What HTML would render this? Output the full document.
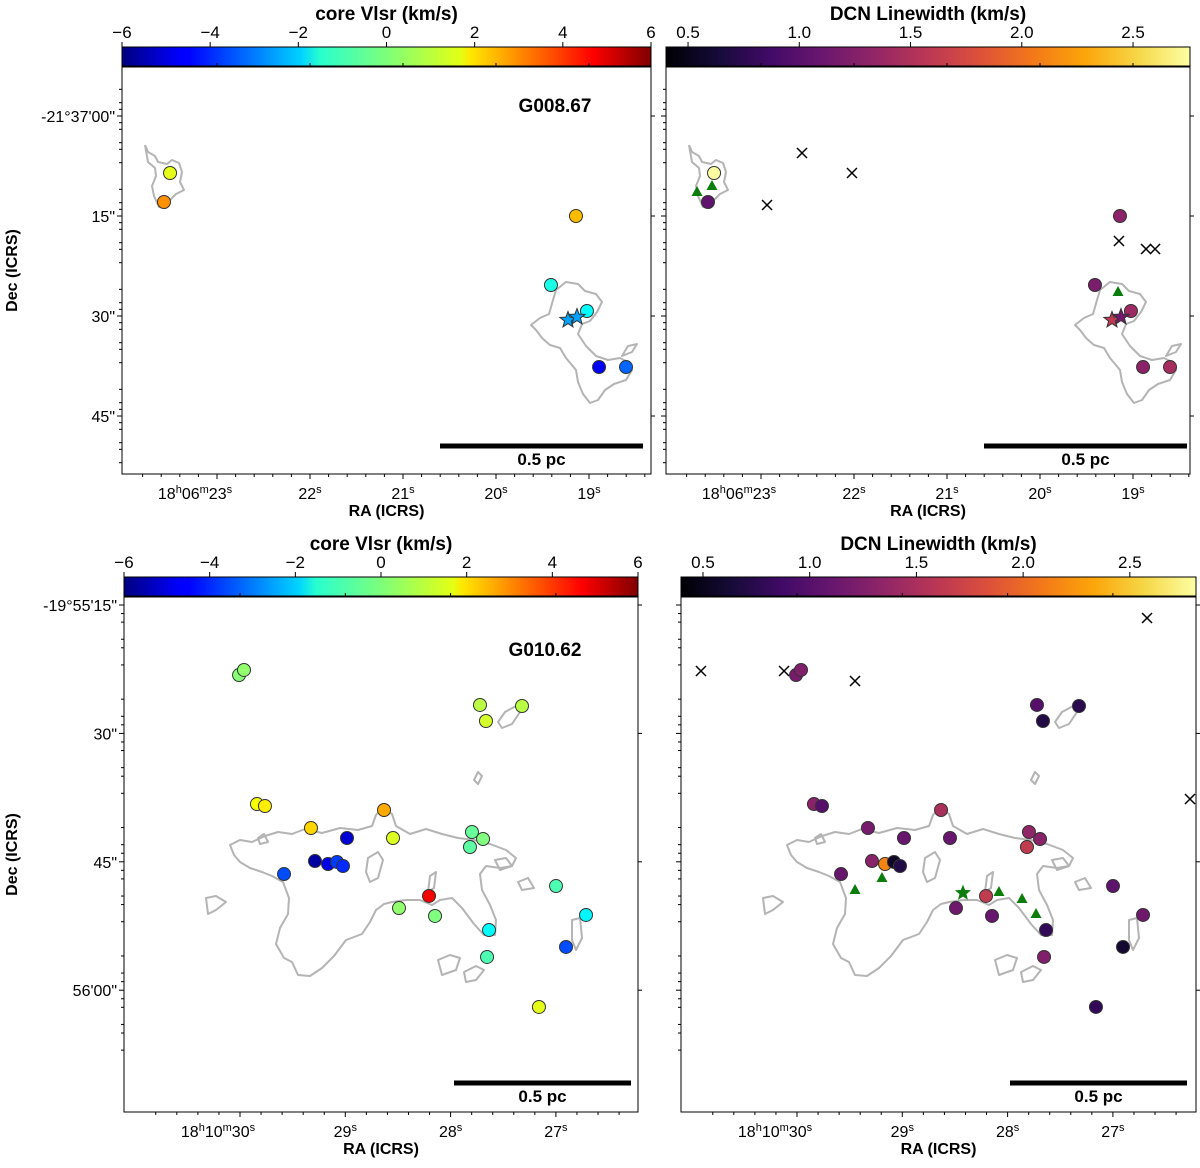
<!DOCTYPE html>
<html><head><meta charset="utf-8"><style>
body{margin:0;background:#fff;}
svg{display:block;font-family:"Liberation Sans","DejaVu Sans",sans-serif;}
</style></head><body>
<svg id="fig" width="1200" height="1168" xmlns="http://www.w3.org/2000/svg">
<defs>
<linearGradient id="jet" x1="0" x2="1" y1="0" y2="0">
<stop offset="0" stop-color="#00007f"/><stop offset="0.11" stop-color="#0000ff"/><stop offset="0.125" stop-color="#0000ff"/><stop offset="0.34" stop-color="#00d4ff"/><stop offset="0.375" stop-color="#29ffce"/><stop offset="0.5" stop-color="#7dff7a"/><stop offset="0.64" stop-color="#e4ff13"/><stop offset="0.66" stop-color="#ffe600"/><stop offset="0.89" stop-color="#ff0000"/><stop offset="1" stop-color="#7f0000"/>
</linearGradient>
<linearGradient id="inferno" x1="0" x2="1" y1="0" y2="0">
<stop offset="0" stop-color="#000004"/><stop offset="0.1" stop-color="#160b39"/><stop offset="0.2" stop-color="#420a68"/><stop offset="0.3" stop-color="#6a176e"/><stop offset="0.4" stop-color="#932667"/><stop offset="0.5" stop-color="#bc3754"/><stop offset="0.6" stop-color="#dd513a"/><stop offset="0.7" stop-color="#f37819"/><stop offset="0.8" stop-color="#fca50a"/><stop offset="0.9" stop-color="#f6d746"/><stop offset="1" stop-color="#fcffa4"/>
</linearGradient>
</defs>
</svg>
<script>
// ---- data: G008.67 (RA seconds of 18h06m, Dec arcsec below -21°37'00") ----
const g8Ra = [23.505, 23.570, 19.140, 19.409, 19.022, 18.892, 18.602];
const g8Dec = [8.55, 12.90, 15.00, 25.35, 29.25, 37.65, 37.65];
const g8Vlsr = [1.2, 2.8, 2.3, -1.2, -1.5, -4.6, -3.3];
const g8Lw = [2.75, 1.05, 1.3, 1.2, 1.4, 1.3, 1.45];
const g8StarRa = [19.226, 19.129];
const g8StarDec = [30.6, 30.15];
const g8StarVlsr = [-2.6, -2.6];
const g8StarLw = [1.6, 1.15];
const g8TriRa = [23.688, 23.527, 19.161];
const g8TriDec = [11.4, 10.5, 26.4];
const g8XRa = [22.559, 22.022, 22.935, 19.151, 18.860, 18.763];
const g8XDec = [5.55, 8.55, 13.35, 18.75, 19.95, 19.95];
// ---- data: G010.62 (RA seconds of 18h10m, Dec arcsec below -19°55'00") ----
const g10Ra = [30.009,29.962,27.721,27.664,27.322,29.839,29.763,29.326,28.632,28.984,28.547,29.288,29.164,29.079,29.022,29.582,27.797,27.692,27.816,26.999,28.205,28.490,28.148,26.714,27.635,26.904,27.654,27.161];
const g10Dec = [23.18,22.59,26.68,28.55,26.80,38.25,38.48,41.05,38.95,42.22,42.22,44.91,45.26,45.02,45.49,46.43,41.52,42.34,43.27,47.83,48.99,50.40,51.33,51.21,52.97,54.95,56.12,61.96];
const g10Vlsr = [0.1,0.2,0.7,1.0,0.7,1.4,1.7,2.0,2.5,-5.0,1.1,-5.6,-4.8,-3.8,-4.0,-3.6,-0.3,0.0,-0.4,-0.6,4.6,0.2,0.0,-1.6,-1.5,-3.6,-0.6,1.2];
const g10Lw = [1.2,1.25,1.0,0.7,0.75,1.3,1.0,1.2,1.5,1.1,1.1,1.3,2.15,0.55,0.7,1.1,1.35,1.3,1.65,1.05,1.65,1.15,1.1,1.15,0.8,0.6,1.25,0.8];
const g10TriRa = [29.449,29.193,28.082,27.863,27.730];
const g10TriDec = [48.29,46.89,48.53,49.35,51.10];
const g10StarRa = [28.424];
const g10StarDec = [48.64];
const g10XRa = [30.912,30.123,29.449,26.676,26.268];
const g10XDec = [22.71,22.71,23.88,16.52,37.66];
const jetTicks = [-6,-4,-2,0,2,4,6];
const lwTicks = [0.5,1.0,1.5,2.0,2.5];

const NS="http://www.w3.org/2000/svg";
const svg=document.getElementById('fig');
function mk(tag,attrs,parent){const e=document.createElementNS(NS,tag);for(const k in attrs)e.setAttribute(k,attrs[k]);(parent||svg).appendChild(e);return e;}
function txt(s,x,y,opt,parent){const e=mk('text',Object.assign({x:x,y:y,'font-size':16,'text-anchor':'middle',fill:'#000'},opt||{}),parent);e.textContent=s;return e;}
function clamp(v){return Math.max(0,Math.min(1,v));}
function jet(v){const t=clamp((v+6)/12);const r=clamp(1.5-Math.abs(4*t-3)),g=clamp(1.5-Math.abs(4*t-2)),b=clamp(1.5-Math.abs(4*t-1));return `rgb(${Math.round(r*255)},${Math.round(g*255)},${Math.round(b*255)})`;}
const inf=[[0,0,4],[22,11,57],[66,10,104],[106,23,110],[147,38,103],[188,55,84],[221,81,58],[243,120,25],[252,165,10],[246,215,70],[252,255,164]];
function inferno(v,lo,hi){const t=clamp((v-lo)/(hi-lo))*10;const i=Math.min(9,Math.floor(t)),f=t-i;const a=inf[i],b=inf[i+1];return `rgb(${a.map((c,k)=>Math.round(c+(b[k]-c)*f)).join(',')})`;}

function panel(cfg){
  const g=mk('g',{});
  
  
  const {L,R,T,B}=cfg;
  const xs=ra=>cfg.x0-(ra-cfg.ra0)*cfg.pxs;
  const ys=d=>cfg.y0+(d-cfg.d0)*cfg.pyd;
  const cb=mk('rect',{x:L,y:T-20,width:R-L,height:19,fill:cfg.grad,stroke:'#000','stroke-width':1},g);
  
  
  const cs=v=>L+(v-cfg.cmin)/(cfg.cmax-cfg.cmin)*(R-L);
  cfg.cticks.forEach(v=>{const x=cs(v);mk('line',{x1:x,x2:x,y1:T-20,y2:T-25,stroke:'#000'},g);const t=txt(String(v).replace('-','\u2212'),x,T-29,{'font-size':17},g);if(cfg.fmt)t.textContent=v.toFixed(1);});
  const ti=txt(cfg.ctitle,(L+R)/2,T-47,{'font-size':19,'font-weight':'bold'},g);
  
  const cg=mk('g',{transform:`translate(${cfg.cdx},0)`,fill:'none',stroke:'#b4b4b4','stroke-width':2,'stroke-linejoin':'round'},g);
  
  cfg.contours.forEach(p=>mk('path',{d:p},cg));
  const fr=mk('rect',{x:L,y:T,width:R-L,height:B-T,fill:'none',stroke:'#000','stroke-width':1},g);
  
  cfg.xticks.forEach((v,i)=>{const x=xs(v);mk('line',{x1:x,x2:x,y1:B,y2:B+5,stroke:'#000'},g);mk('line',{x1:x,x2:x,y1:T,y2:T-4,stroke:'#000'},g);
    for(let k=1;k<5;k++){const xm=xs(v-k*0.2);if(xm>L&&xm<R){mk('line',{x1:xm,x2:xm,y1:B,y2:B+3,stroke:'#000'},g);}}
    if(i==0){for(let k=1;k<5;k++){const xm=xs(v+k*0.2);if(xm>L)mk('line',{x1:xm,x2:xm,y1:B,y2:B+3,stroke:'#000'},g);}}
    const t=mk('text',{x:x,y:B+25,'font-size':16,'text-anchor':'middle'},g);
    if(i==0){t.innerHTML=`${cfg.rah}<tspan font-size="11" dy="-6">h</tspan><tspan dy="6">${cfg.ram}</tspan><tspan font-size="11" dy="-6">m</tspan><tspan dy="6">${v}</tspan><tspan font-size="11" dy="-6">s</tspan>`;t.setAttribute('x',x-22);}
    else t.innerHTML=`${v}<tspan font-size="11" dy="-6">s</tspan>`;
    });
  cfg.yticks.forEach((v,i)=>{const y=ys(v);mk('line',{x1:L,x2:L-5,y1:y,y2:y,stroke:'#000'},g);mk('line',{x1:R,x2:R+4,y1:y,y2:y,stroke:'#000'},g);
    for(let k=-4;k<8;k++){if(k%3==0)continue;const ym=ys(v+k*5/3*0.6);if(ym>T&&ym<B){mk('line',{x1:L,x2:L-3,y1:ym,y2:ym,stroke:'#000'},g);}}
    if(cfg.ylabels){const t=txt(cfg.ylabels[i],L-7,y+6,{'text-anchor':'end'},g);}});
  const xl=txt('RA (ICRS)',(L+R)/2,B+42,{'font-weight':'bold','font-size':16},g);
  
  if(cfg.ylabels){const yl=txt('Dec (ICRS)',0,0,{'font-weight':'bold','font-size':16,transform:`translate(17,${(T+B)/2}) rotate(-90)`},g);}
  if(cfg.label){const lb=txt(cfg.label,cfg.labelX,cfg.labelY,{'font-weight':'bold','font-size':19},g);}
  const sb=mk('rect',{x:cfg.sb[0],y:cfg.sb[2]-2.5,width:cfg.sb[1]-cfg.sb[0],height:5,fill:'#000'},g);
  
  const sl=txt('0.5 pc',(cfg.sb[0]+cfg.sb[1])/2,cfg.sb[2]+19,{'font-weight':'bold','font-size':17},g);
  
  (cfg.xRa||[]).forEach((ra,i)=>{const x=xs(ra),y=ys(cfg.xDec[i]);const p=mk('path',{d:`M${x-5},${y-5}L${x+5},${y+5}M${x-5},${y+5}L${x+5},${y-5}`,stroke:'#000','stroke-width':1.5},g);
    });
  (cfg.triRa||[]).forEach((ra,i)=>{const x=xs(ra),y=ys(cfg.triDec[i]);const p=mk('path',{d:`M${x},${y-6}L${x+5.5},${y+4}L${x-5.5},${y+4}Z`,fill:'#0a7d0a'},g);
    });
  cfg.ra.forEach((ra,i)=>{const c=mk('circle',{cx:xs(ra),cy:ys(cfg.dec[i]),r:6.5,fill:cfg.col(cfg.val[i]),stroke:'#333','stroke-width':1},g);
    });
  (cfg.starRa||[]).forEach((ra,i)=>{const x=xs(ra),y=ys(cfg.starDec[i]);let d='';for(let k=0;k<10;k++){const r=k%2?3.6:8.5,a=-Math.PI/2+k*Math.PI/5;d+=(k?'L':'M')+(x+r*Math.cos(a)).toFixed(1)+','+(y+r*Math.sin(a)).toFixed(1);}
    const p=mk('path',{d:d+'Z',fill:cfg.starVal?cfg.col(cfg.starVal[i]):'#0a7d0a',stroke:cfg.starVal?'#333':'none','stroke-width':1},g);
    });
}

const c8=["M145,145 L148,152 L155,156 L158,162 L167,164 L172,160 L179,163 L182,172 L180,182 L184,190 L176,194 L170,200 L166,208 L159,207 L154,196 L152,186 L156,176 L155,168 L148,162 L145,145",
"M531,325 L540,318 L549,314 L553,300 L556,290 L566,282 L578,284 L585,291 L596,294 L602,302 L597,312 L590,321 L582,324 L578,334 L586,346 L596,356 L608,360 L620,358 L628,362 L632,370 L626,380 L614,384 L605,390 L598,400 L590,403 L583,394 L578,382 L576,370 L566,358 L560,348 L550,345 L542,338 L536,330 Z",
"M622,356 L628,346 L637,344 L632,352 Z"];
const c10=["M230,845 L240,840 L252,842 L265,836 L278,832 L292,834 L305,829 L322,833 L340,828 L358,830 L372,826 L376,815 L382,808 L392,814 L396,826 L410,834 L426,829 L442,834 L458,838 L474,840 L490,844 L506,850 L516,858 L512,866 L500,868 L486,866 L480,874 L482,890 L490,905 L496,920 L495,935 L484,935 L474,924 L462,908 L452,898 L440,900 L432,905 L420,900 L406,900 L392,902 L384,904 L376,910 L370,922 L362,934 L346,940 L334,956 L322,968 L310,976 L298,975 L292,962 L284,958 L276,944 L280,928 L288,914 L289,898 L283,882 L272,876 L262,872 L250,868 L240,862 L234,855 Z",
"M498,722 L505,712 L516,706 L526,704 L520,712 L512,724 L502,728 Z",
"M368,858 L378,852 L383,860 L378,878 L370,882 L366,872 Z",
"M430,876 L436,872 L434,888 L428,892 Z",
"M438,960 L450,955 L460,958 L456,970 L442,975 Z",
"M464,972 L476,966 L484,970 L476,980 L466,982 Z",
"M206,898 L216,896 L226,902 L216,910 L208,914 Z",
"M258,838 L264,834 L268,842 L260,844 Z",
"M474,780 L478,772 L482,776 L478,784 Z",
"M495,860 L506,858 L512,866 L500,870 Z",
"M518,882 L528,878 L534,888 L522,890 Z",
"M572,920 L580,918 L582,938 L576,950 L572,940 Z"];

panel({name:'panel-g008-vlsr',L:122,R:651,T:67,B:474,ra0:23,x0:217,pxs:93,d0:0,y0:116,pyd:6.667,
  grad:'url(#jet)',cmin:-6,cmax:6,cticks:jetTicks,ctitle:'core Vlsr (km/s)',cdx:0,contours:c8,
  xticks:[23,22,21,20,19],rah:18,ram:'06',yticks:[0,15,30,45],ylabels:["-21°37'00\"","15\"","30\"","45\""],
  label:'G008.67',labelX:555,labelY:112,sb:[440,643,446],
  ra:g8Ra,dec:g8Dec,val:g8Vlsr,col:jet,starRa:g8StarRa,starDec:g8StarDec,starVal:g8StarVlsr});
panel({name:'panel-g008-linewidth',L:666,R:1190,T:67,B:474,ra0:23,x0:761,pxs:93,d0:0,y0:116,pyd:6.667,
  grad:'url(#inferno)',cmin:0.401,cmax:2.756,cticks:lwTicks,fmt:true,ctitle:'DCN Linewidth (km/s)',cdx:544,contours:c8,
  xticks:[23,22,21,20,19],rah:18,ram:'06',yticks:[0,15,30,45],ylabels:null,
  sb:[984,1187,446],
  ra:g8Ra,dec:g8Dec,val:g8Lw,col:v=>inferno(v,0.401,2.756),starRa:g8StarRa,starDec:g8StarDec,starVal:g8StarLw,
  triRa:g8TriRa,triDec:g8TriDec,xRa:g8XRa,xDec:g8XDec});
panel({name:'panel-g010-vlsr',L:124,R:638,T:597,B:1112,ra0:30,x0:240,pxs:105.3,d0:15,y0:605,pyd:8.56,
  grad:'url(#jet)',cmin:-6,cmax:6,cticks:jetTicks,ctitle:'core Vlsr (km/s)',cdx:0,contours:c10,
  xticks:[30,29,28,27],rah:18,ram:'10',yticks:[15,30,45,60],ylabels:["-19°55'15\"","30\"","45\"","56'00\""],
  label:'G010.62',labelX:545,labelY:656,sb:[454,631,1083],
  ra:g10Ra,dec:g10Dec,val:g10Vlsr,col:jet});
panel({name:'panel-g010-linewidth',L:681,R:1196,T:597,B:1112,ra0:30,x0:797,pxs:105.3,d0:15,y0:605,pyd:8.56,
  grad:'url(#inferno)',cmin:0.397,cmax:2.81,cticks:lwTicks,fmt:true,ctitle:'DCN Linewidth (km/s)',cdx:557,contours:c10,
  xticks:[30,29,28,27],rah:18,ram:'10',yticks:[15,30,45,60],ylabels:null,
  sb:[1010,1187,1083],
  ra:g10Ra,dec:g10Dec,val:g10Lw,col:v=>inferno(v,0.397,2.81),starRa:g10StarRa,starDec:g10StarDec,
  triRa:g10TriRa,triDec:g10TriDec,xRa:g10XRa,xDec:g10XDec});
</script>
</body></html>
